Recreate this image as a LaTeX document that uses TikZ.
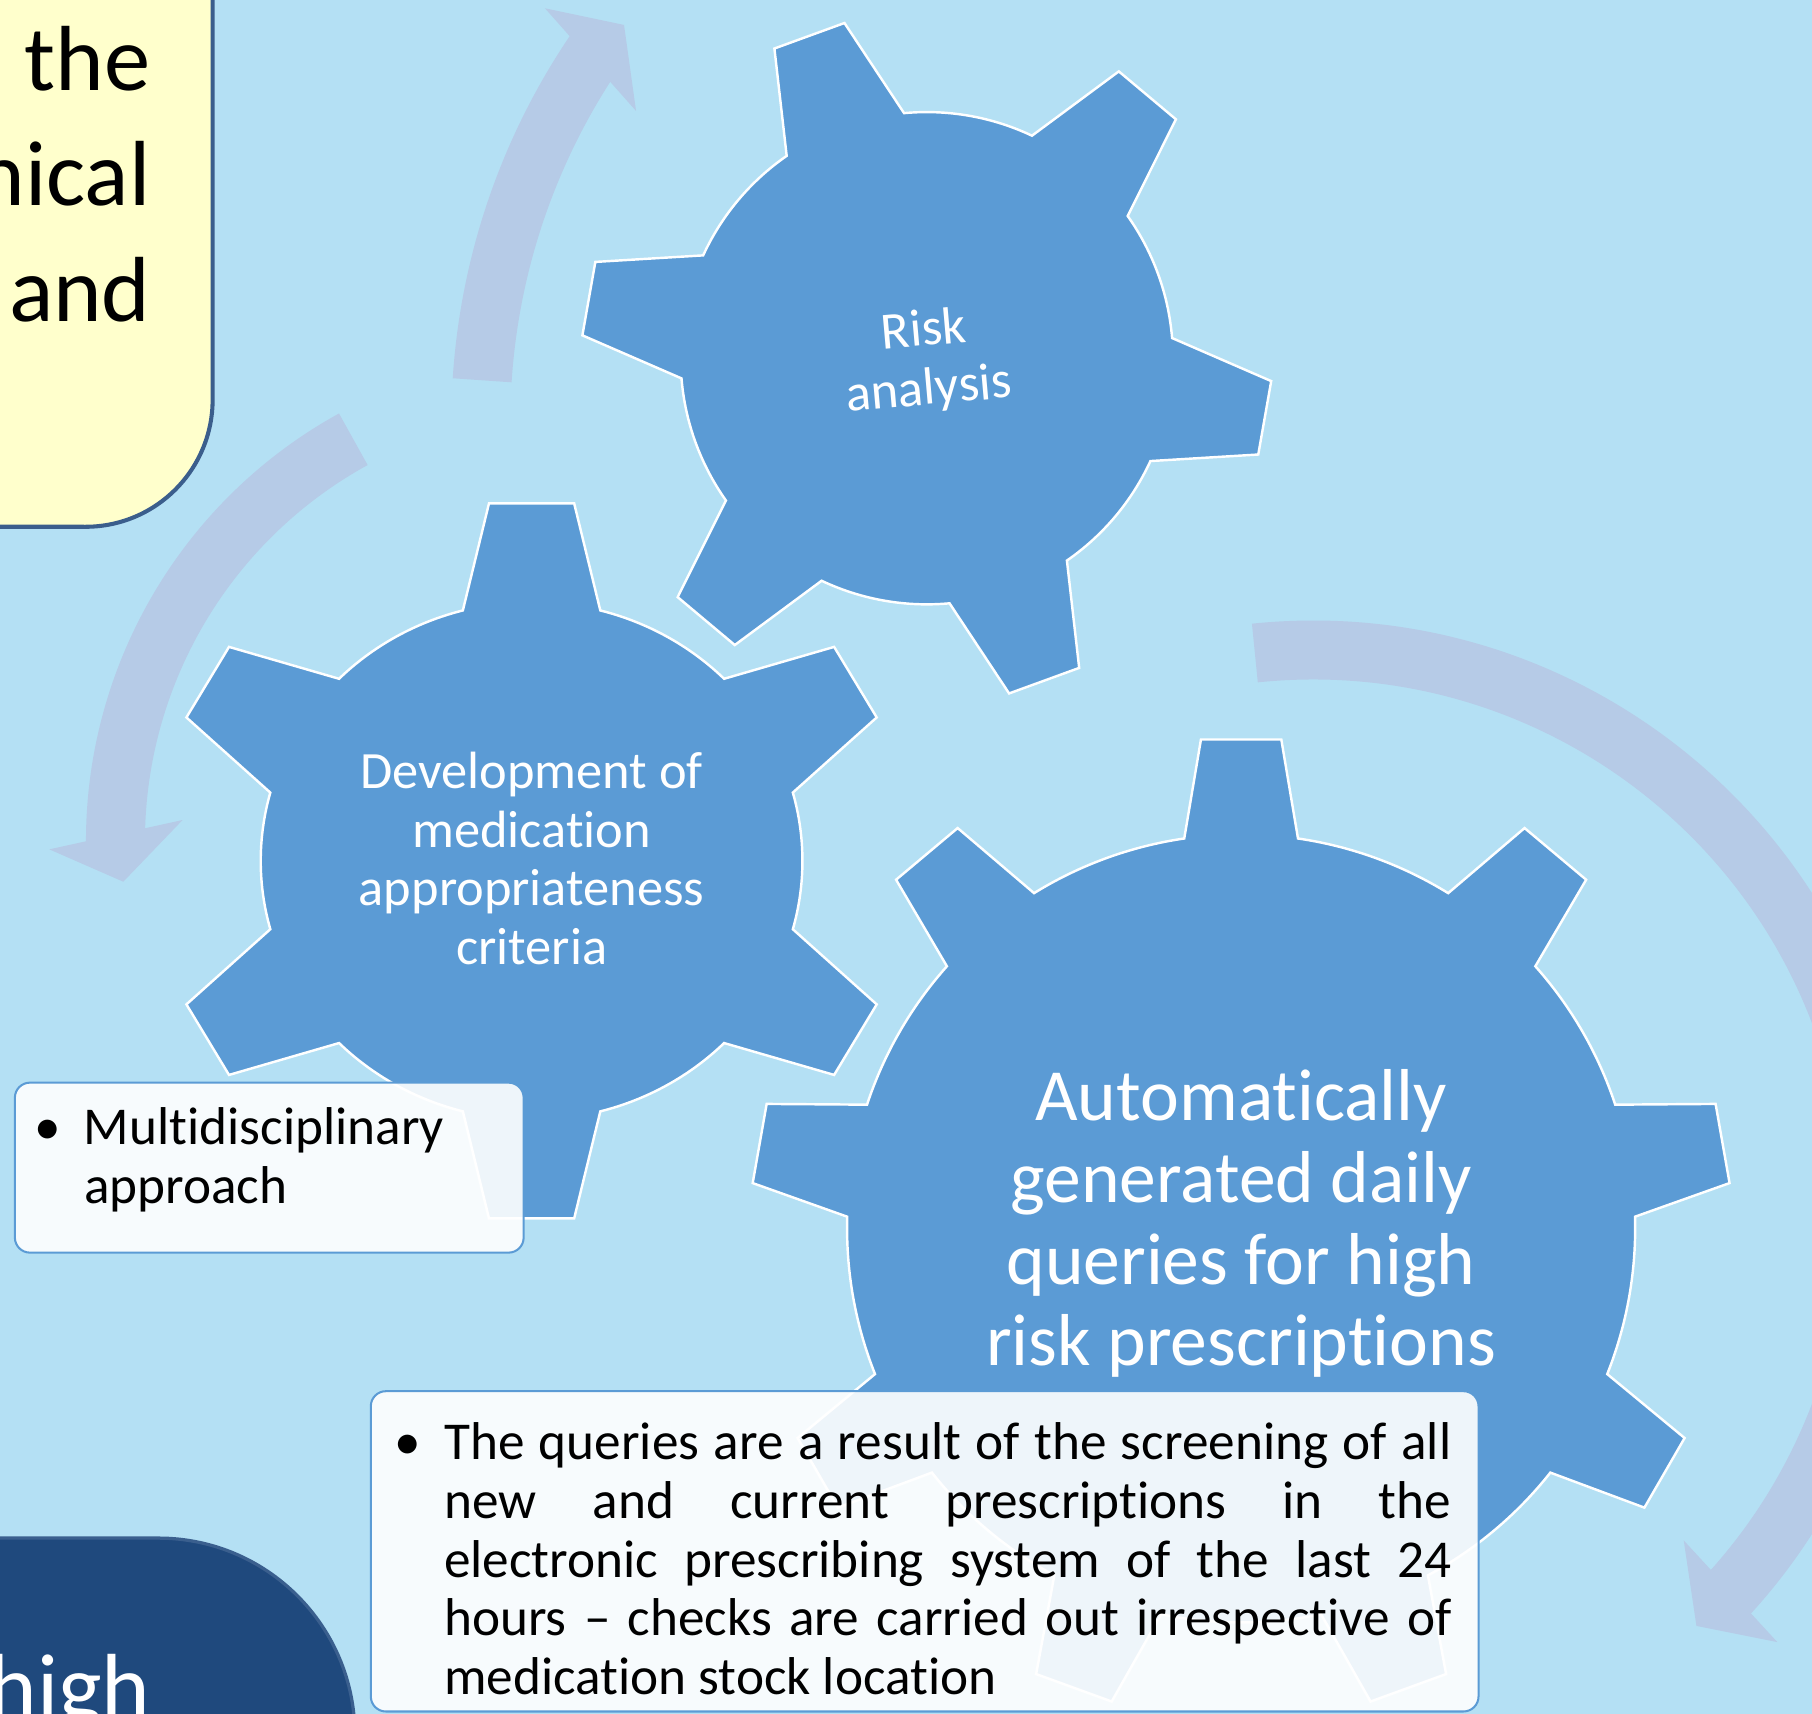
\documentclass[tikz,border=0pt]{standalone}
\usepackage{fontspec}
\setmainfont{Carlito}[Ligatures=NoCommon]
\definecolor{slide}{RGB}{180,224,244}
\definecolor{cogblue}{RGB}{91,155,213}
\definecolor{swirl}{RGB}{182,203,231}
\definecolor{notepad}{RGB}{255,255,204}
\definecolor{notepadline}{RGB}{59,94,140}
\definecolor{navy}{RGB}{31,73,125}
\definecolor{navyline}{RGB}{58,95,142}
\newcommand{\cog}[8]{%
  \begin{scope}[shift={(#1)}, yscale=#8]
    \pgfmathsetmacro{\cogstep}{360/#2}
    \pgfmathsetlengthmacro{\cogbody}{#4*0.01cm}
    \filldraw[cog] ({#3-#6}:#4)
      \foreach \k in {1,...,#2} {
        -- ({#3+(\k-1)*\cogstep-#7}:#5)
        -- ({#3+(\k-1)*\cogstep+#7}:#5)
        -- ({#3+(\k-1)*\cogstep+#6}:#4)
        arc[start angle={#3+(\k-1)*\cogstep+#6}, end angle={#3+\k*\cogstep-#6}, radius=\cogbody]
      } -- cycle;
  \end{scope}}

\begin{document}
\begin{tikzpicture}[x=0.01cm, y=0.01cm,
    cog/.style={fill=cogblue, draw=white, line width=0.6pt},
    turn/.style={draw=swirl, line width=0.51cm},
    turnhead/.style={fill=swirl},
    bigword/.style={inner sep=0pt, font=\fontsize{22.76}{28.45}\selectfont},
    coglabel/.style={inner sep=0pt, align=center, text=white, font=\fontsize{12.9}{14.5}\selectfont},
    cogbig/.style={inner sep=0pt, align=center, text=white, font=\fontsize{18.1}{20.1}\selectfont},
    callout/.style={draw=cogblue, line width=0.5pt, fill=white, fill opacity=0.9, rounded corners=0.13cm, inner sep=0pt},
    bullets/.style={inner sep=0pt, font=\fontsize{13.1}{14.4}\selectfont}]
    \useasboundingbox (0,0) rectangle (1568,-1483);
    \clip (0,0) rectangle (1568,-1483);
    \fill[slide] (0,0) rectangle (1568,-1483);

    \draw[turn] (988,-366) ++(176.3:572) arc[start angle=176.3, end angle=145.2, radius=5.72cm];
    \fill[turnhead] (471.6,-7.2) -- (540,-21.6) -- (550.4,-96) -- cycle;
    \draw[turn] (497,-728) ++(118.8:397) arc[start angle=118.8, end angle=180.6, radius=3.97cm];
    \fill[turnhead] (42.7,-735) -- (106.7,-763) -- (158,-709.6) -- cycle;
    \draw[turn] (1136,-1050) ++(95.9:487.5) arc[start angle=95.9, end angle=-43.6, radius=4.875cm];
    \fill[turnhead] (1457,-1333) -- (1468,-1407) -- (1538,-1421) -- cycle;

    \cog{802,-310}{6}{-10}{213}{298.7}{14.7}{6.2}{1}
    \cog{460,-745}{6}{30}{234.4}{325.7}{14.7}{6.5}{0.956}
    \cog{1074,-1063}{9}{10}{341}{424.5}{8.3}{4.7}{1}

    \draw[fill=notepad, draw=notepadline, line width=1pt]
        (-20,20) -- (184,20) -- (184,-345.8) arc[start angle=0, end angle=-90, radius=1.1cm] -- (-20,-455.8) -- cycle;
    \draw[fill=navy, draw=navyline, line width=0.8pt]
        (-20,-1331) -- (137,-1331) arc[start angle=90, end angle=0, radius=1.7cm] -- (307,-1520) -- (-20,-1520) -- cycle;

    \node[bigword, anchor=base east] (the) at (131,-78) {the};
    \node[bigword, anchor=base east] (nical) at (131,-178) {nical};
    \node[bigword, anchor=base east] (and) at (131,-278) {and};
    \node[bigword, text=white, anchor=base east] (high) at (131,-1487) {high};

    \node[coglabel, rotate=5, anchor=base] (risk) at (805,-350) {Risk\\analysis};
    \node[coglabel, anchor=base] (criteria) at (460,-835) {Development of\\medication\\appropriateness\\criteria};
    \node[cogbig, anchor=base] (queries) at (1074,-1182) {Automatically\\generated daily\\queries for high\\risk prescriptions};

    \node[callout, minimum width=4.40cm, minimum height=1.47cm, anchor=north west] (teambox) at (12,-936) {};
    \node[bullets, align=left, anchor=base west] (team) at (72,-1041.3)
        {\leavevmode\llap{\textbullet\hspace{0.2cm}}Multidisciplinary\\approach};
    \node[callout, minimum width=9.58cm, minimum height=2.77cm, anchor=north west] (screenbox) at (320,-1203) {};
    \node[bullets, text width=8.71cm, align=justify, anchor=base west] (screen) at (383.7,-1263.4)
        {\tolerance=10000\hbadness=10000\leavevmode\llap{\textbullet\hspace{0.2cm}}The queries are a result of the screening of all\linebreak
         new and current prescriptions in the\linebreak
         electronic prescribing system of the last 24\linebreak
         hours – checks are carried out irrespective of\linebreak
         medication stock location};
\end{tikzpicture}
\end{document}
